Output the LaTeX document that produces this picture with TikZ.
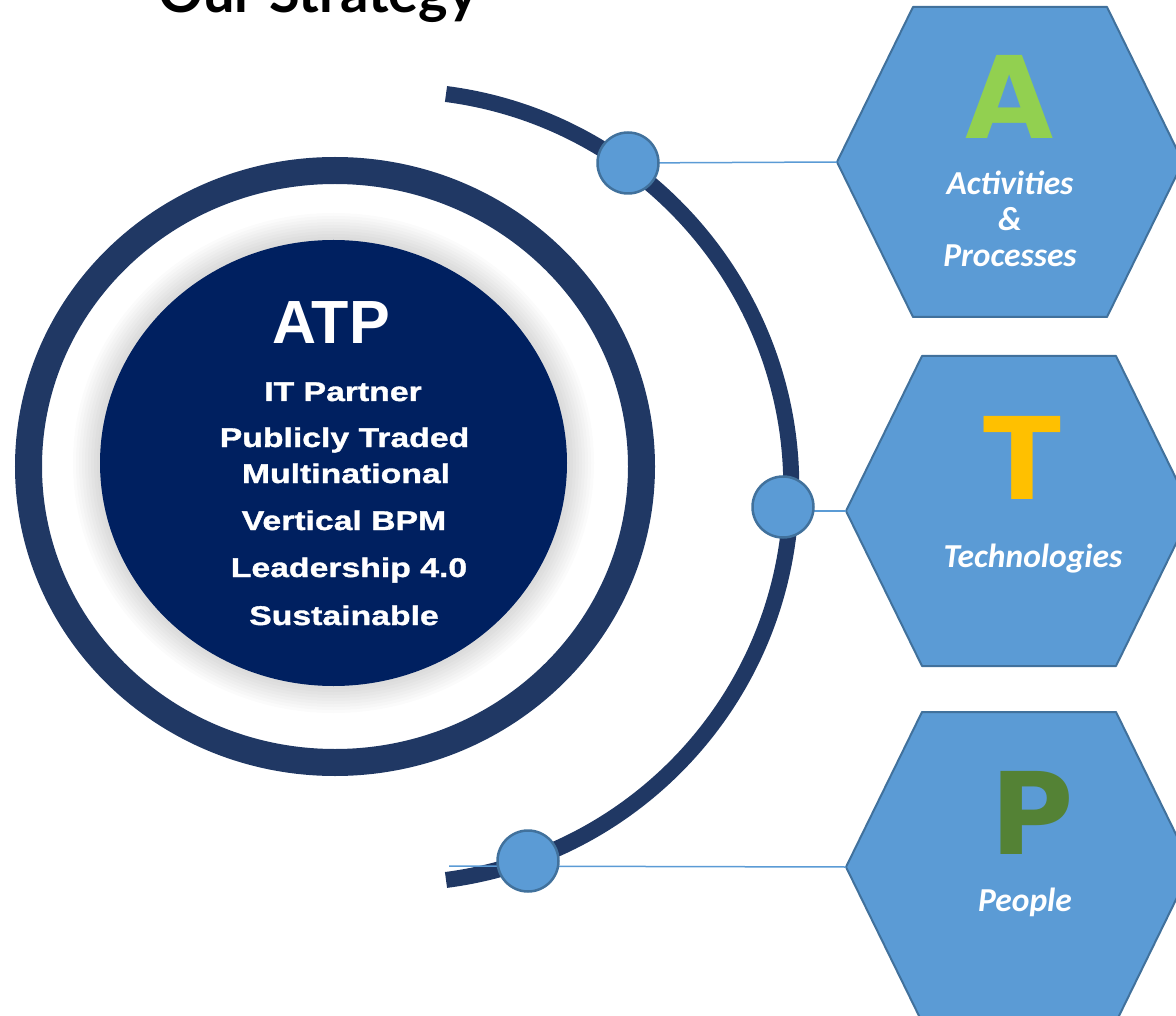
\documentclass[tikz,border=0pt]{standalone}
\usepackage{fontspec}
\setmainfont{Liberation Sans}
\newfontfamily\widefont{Liberation Sans}[FakeStretch=1.25,FakeBold=1.3]
\newfontfamily\hexfont{Carlito}
\newfontfamily\letterfont{DejaVu Sans}
\newfontfamily\titlefont{Lato}
\usetikzlibrary{positioning}

\definecolor{ringnavy}{HTML}{203864}
\definecolor{corenavy}{HTML}{002060}
\definecolor{hexblue}{HTML}{5B9BD5}
\definecolor{hexedge}{HTML}{41719C}
\definecolor{agreen}{HTML}{92D050}
\definecolor{tgold}{HTML}{FFC000}
\definecolor{pgreen}{HTML}{548235}

\tikzset{
  ringline/.style={draw=ringnavy, line width=27},
  orbit/.style={draw=ringnavy, line width=16},
  coretxt/.style={text=white, anchor=base, font=\widefont\bfseries\fontsize{27}{32}\selectfont},
  hexbox/.style={fill=hexblue, draw=hexedge, line width=2, line join=round},
  dot/.style={circle, fill=hexblue, draw=hexedge, line width=2.5, minimum size=61, inner sep=0},
  link/.style={draw=hexblue, line width=1.5},
  hexlabel/.style={text=white, anchor=base, font=\hexfont\bfseries\itshape\fontsize{33.5}{38}\selectfont},
  bigletter/.style={anchor=base, font=\letterfont\bfseries\fontsize{114}{114}\selectfont}
}

\begin{document}
\begin{tikzpicture}[x=1pt, y=-1pt]
  \useasboundingbox (0,0) rectangle (1176,1016);
  \clip (0,0) rectangle (1176,1016);

  % heading, half of it above the page edge
  \node[anchor=base, font=\titlefont\bfseries\fontsize{56}{56}\selectfont] (title) at (318,13) {Our Strategy};

  % outer ring and the core disc with its soft glow
  \draw[ringline] (335,466.5) ellipse [x radius=306.5, y radius=296];
  \foreach \k in {1,...,9}
    \fill[black, opacity=0.016] (333.5,463) ellipse [x radius=233.5+\k*3, y radius=223+\k*3];
  \fill[corenavy] (333.5,463) ellipse [x radius=233.5, y radius=223];

  % big arc on the right
  \draw[orbit] (446,94) arc[start angle=-82.6, end angle=82.6, radius=396.3];

  % hexagons, named by their left tip
  \foreach \name/\tx/\ty in {hexA/837/162, hexT/846/511, hexP/846/867} {
    \coordinate (\name) at (\tx,\ty);
    \draw[hexbox] (\name) -- ++(76,-155) -- ++(194,0) -- ++(76,155)
      -- ++(-76,155) -- ++(-194,0) -- cycle;
  }

  % dots on the arc and their links
  \coordinate (c1) at (628,163);
  \coordinate (c2) at (783,507);
  \coordinate (c3) at (528,861);
  \coordinate (linkP) at (449,866);
  \draw[link] (c1) -- (hexA);
  \draw[link] (hexT -| c2) -- (hexT);
  \draw[link] (linkP) -- (hexP);
  \node[dot] (dotA) at (c1) {};
  \node[dot] (dotT) at (c2) {};
  \node[dot] (dotP) at (c3) {};

  % core text
  \node[text=white, anchor=base, font=\bfseries\fontsize{61}{61}\selectfont] (atp) at (331,344) {ATP};
  \node[coretxt] (partner) at (343,401) {IT Partner};
  \node[coretxt] (traded) at (344.5,447) {Publicly Traded};
  \node[coretxt] (multi) at (346,483) {Multinational};
  \node[coretxt] (bpm) at (344,530) {Vertical BPM};
  \node[coretxt] (lead) at (349,577) {Leadership 4.0};
  \node[coretxt] (sustain) at (344,625) {Sustainable};

  % letters and captions in the hexagons
  \node[bigletter, text=agreen] (letA) at (1010,139) {A};
  \node[hexlabel] (actA) at (1010,195) {Activities};
  \node[hexlabel] (ampA) at (1010,231) {\&};
  \node[hexlabel] (procA) at (1010,267) {Processes};
  \node[bigletter, text=tgold] (letT) at (1022,499) {T};
  \node[hexlabel] (techT) at (1033,567) {Technologies};
  \node[bigletter, text=pgreen] (letP) at (1032,854) {P};
  \node[hexlabel] (peopleP) at (1025,911) {People};
\end{tikzpicture}
\end{document}
